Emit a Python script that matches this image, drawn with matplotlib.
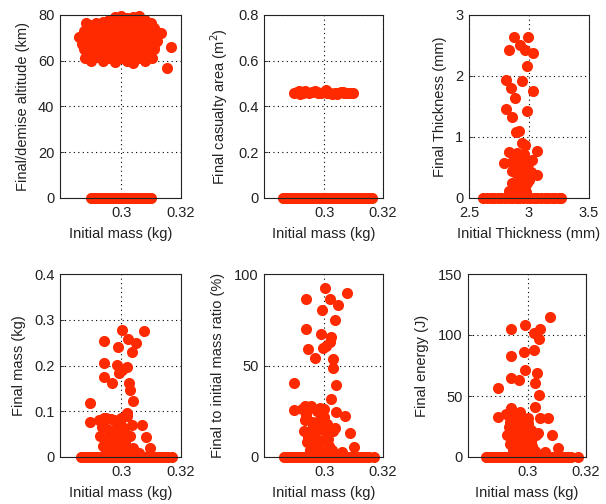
import matplotlib
matplotlib.use("Agg")
import matplotlib.pyplot as plt

plt.rcParams['font.family'] = ['Liberation Sans', 'DejaVu Sans']

# ---------------- data ----------------
# Panel 1: final/demise altitude vs initial mass
alt_mass = [0.2883, 0.2915, 0.294, 0.296, 0.298, 0.300, 0.302, 0.304, 0.306, 0.308, 0.310,
            0.2895, 0.293, 0.295, 0.297, 0.299, 0.301, 0.303, 0.305, 0.307, 0.309, 0.311,
            0.2860, 0.2875, 0.290, 0.292, 0.294, 0.296, 0.298, 0.300, 0.302, 0.304, 0.306, 0.308, 0.310, 0.312, 0.3132,
            0.289, 0.291, 0.293, 0.295, 0.297, 0.299, 0.301, 0.303, 0.305, 0.307, 0.309, 0.311,
            0.288, 0.290, 0.292, 0.294, 0.296, 0.298, 0.300, 0.302, 0.304, 0.306, 0.308, 0.310, 0.312,
            0.287, 0.289, 0.291, 0.293, 0.295, 0.297, 0.299, 0.301, 0.303, 0.305, 0.307, 0.309, 0.311,
            0.2875, 0.289, 0.291, 0.293, 0.295, 0.297, 0.299, 0.301, 0.303, 0.305, 0.307, 0.309, 0.311, 0.3166,
            0.289, 0.291, 0.293, 0.295, 0.297, 0.299, 0.301, 0.303, 0.305, 0.307, 0.309,
            0.288, 0.290, 0.292, 0.294, 0.296, 0.298, 0.300, 0.302, 0.304, 0.306, 0.308, 0.3103, 0.3153,
            0.2899, 0.2909, 0.2919, 0.2929, 0.2939, 0.2949, 0.2959, 0.2969, 0.2979, 0.2989, 0.2999,
            0.3009, 0.3019, 0.3029, 0.3039, 0.3049, 0.3059, 0.3069, 0.3079, 0.3089, 0.3098]
alt_value = [76.5, 76.5, 77, 78, 79, 79.5, 78.5, 79, 79.5, 78, 76.5,
             75.5, 75.5, 76, 75.5, 76, 75.5, 76, 75.5, 76, 75, 74.5,
             70.2, 73, 74, 73, 74, 73, 74, 73, 74, 73, 74, 73, 74, 72.5, 72,
             71.5, 71, 71.5, 71, 71.5, 71, 71.5, 71, 71.5, 71, 71.5, 70.5,
             69, 70, 68, 70, 69, 70, 68, 70, 69, 70, 68, 69, 68.5,
             67.5, 67, 67.5, 67, 67.5, 67, 67.5, 67, 67.5, 67, 67.5, 67, 67,
             65, 66, 64, 65, 66, 64, 65, 66, 64, 65, 66, 64, 65, 65.9,
             63, 62.5, 63, 62.5, 63, 62, 63, 62, 63, 62.5, 63,
             61, 60, 61.5, 60, 61, 59.5, 61, 60, 59, 61, 60, 61, 56.7,
             0, 0, 0, 0, 0, 0, 0, 0, 0, 0, 0,
             0, 0, 0, 0, 0, 0, 0, 0, 0, 0]

# Panel 2: final casualty area vs initial mass
area_mass = [0.2898, 0.2908, 0.2918, 0.2928, 0.2938, 0.2948, 0.2958, 0.2968, 0.2978, 0.2988,
             0.2998, 0.3008, 0.3018, 0.3028, 0.3038, 0.3048, 0.3058, 0.3068, 0.3078, 0.3088,
             0.3098, 0.2935, 0.2975, 0.3005, 0.3045, 0.2915, 0.3065,
             0.2861, 0.2871, 0.2881, 0.2891, 0.2901, 0.2911, 0.2921, 0.2931, 0.2941, 0.2951,
             0.2961, 0.2971, 0.2981, 0.2991, 0.3001, 0.3011, 0.3021, 0.3031, 0.3041, 0.3051,
             0.3061, 0.3071, 0.3081, 0.3091, 0.3101, 0.3111, 0.3121, 0.3131, 0.3141, 0.3151, 0.3162]
area_value = [0.458, 0.462, 0.456, 0.460, 0.465, 0.458, 0.462, 0.466, 0.460, 0.457,
              0.463, 0.459, 0.461, 0.456, 0.460, 0.458, 0.462, 0.457, 0.461, 0.458,
              0.459, 0.468, 0.464, 0.470, 0.455, 0.466, 0.464,
              0, 0, 0, 0, 0, 0, 0, 0, 0, 0,
              0, 0, 0, 0, 0, 0, 0, 0, 0, 0,
              0, 0, 0, 0, 0, 0, 0, 0, 0, 0, 0]

# Panel 3: final thickness vs initial thickness
thk_init = [2.878, 2.994, 2.836, 2.925, 2.967, 3.031, 2.986, 2.81, 2.945, 2.847, 3.03, 2.883,
            2.806, 2.856, 2.986, 2.89, 2.917, 2.967, 3.069, 2.833, 2.792, 2.945, 2.903, 2.958,
            3.028, 2.861, 2.917, 2.975, 2.889, 2.945, 3.014, 2.917, 2.972, 2.83, 2.9, 3.069,
            2.861, 2.97, 2.93, 2.95, 2.88, 2.96, 2.99, 2.86, 2.94, 3.0, 2.91, 2.98,
            2.62, 2.65, 2.68, 2.71, 2.74, 2.77, 2.80, 2.83, 2.86, 2.89, 2.92, 2.95, 2.98,
            3.01, 3.04, 3.07, 3.10, 3.13, 3.16, 3.19, 3.22, 3.25, 3.27]
thk_final = [2.644, 2.644, 2.426, 2.508, 2.426, 2.38, 2.164, 1.934, 1.918, 1.798, 1.754, 1.634,
             1.459, 1.323, 1.431, 1.087, 1.1, 0.869, 0.776, 0.76, 0.568, 0.897, 0.733, 0.677,
             0.623, 0.595, 0.513, 0.49, 0.405, 0.35, 0.43, 0.267, 0.103, 0.12, 0.1, 0.377,
             0.24, 0.185, 0.2, 0.06, 0.62, 0.72, 0.55, 0.45, 0.6, 0.3, 0.15, 0.25,
             0, 0, 0, 0, 0, 0, 0, 0, 0, 0, 0, 0, 0,
             0, 0, 0, 0, 0, 0, 0, 0, 0, 0]

# Panel 4: final mass vs initial mass
fm_mass = [0.3004, 0.3075, 0.2943, 0.2990, 0.3021, 0.3048, 0.3037, 0.2943, 0.2985, 0.3004,
           0.3020, 0.2993, 0.2943, 0.2968, 0.3027, 0.3028, 0.2897, 0.3040, 0.3020, 0.2897,
           0.2943, 0.2966, 0.3070, 0.3084, 0.3097,
           0.2925, 0.295, 0.2975, 0.300, 0.302, 0.2935, 0.296, 0.2985, 0.301, 0.3035,
           0.293, 0.2955, 0.298, 0.3005, 0.303, 0.294, 0.2965, 0.299, 0.3015, 0.304,
           0.2955, 0.298, 0.3005, 0.3025, 0.306,
           0.2938, 0.2962, 0.2988, 0.3012, 0.2945, 0.2970, 0.2995, 0.2950, 0.2978, 0.3000,
           0.2866, 0.2876, 0.2886, 0.2896, 0.2906, 0.2916, 0.2926, 0.2936, 0.2946, 0.2956,
           0.2966, 0.2976, 0.2986, 0.2996, 0.3006, 0.3016, 0.3026, 0.3036, 0.3046, 0.3056,
           0.3066, 0.3076, 0.3086, 0.3096, 0.3106, 0.3116, 0.3126, 0.3136, 0.3146, 0.3156, 0.3169]
fm_value = [0.278, 0.276, 0.254, 0.241, 0.259, 0.250, 0.229, 0.206, 0.201, 0.190,
            0.197, 0.183, 0.175, 0.161, 0.161, 0.146, 0.119, 0.122, 0.097, 0.077,
            0.085, 0.082, 0.070, 0.043, 0.019,
            0.080, 0.085, 0.080, 0.085, 0.090, 0.065, 0.060, 0.065, 0.060, 0.070,
            0.045, 0.040, 0.045, 0.040, 0.045, 0.025, 0.020, 0.025, 0.020, 0.020,
            0.008, 0.010, 0.008, 0.010, 0.008,
            0.072, 0.052, 0.055, 0.030, 0.033, 0.035, 0.050, 0.012, 0.015, 0.070,
            0, 0, 0, 0, 0, 0, 0, 0, 0, 0,
            0, 0, 0, 0, 0, 0, 0, 0, 0, 0,
            0, 0, 0, 0, 0, 0, 0, 0, 0, 0, 0]

# Panel 5: final to initial mass ratio vs initial mass
ratio_mass = [0.3002, 0.3078, 0.2939, 0.3018, 0.3046, 0.2993, 0.3038, 0.2939, 0.2988, 0.3024,
              0.3018, 0.2946, 0.2996, 0.3006, 0.2970, 0.3030, 0.3030, 0.2898, 0.3041, 0.3024,
              0.2898, 0.2935, 0.2955, 0.2985, 0.3041, 0.3072, 0.3086, 0.3103,
              0.2925, 0.295, 0.2975, 0.300, 0.2935, 0.296, 0.2985, 0.301, 0.3035,
              0.293, 0.2955, 0.298, 0.3005, 0.303, 0.294, 0.2965, 0.299, 0.3015,
              0.2955, 0.298, 0.3005, 0.3025, 0.306,
              0.2938, 0.2962, 0.2988, 0.3012, 0.2945, 0.2970, 0.2995, 0.2950, 0.2978, 0.3000,
              0.2862, 0.2872, 0.2882, 0.2892, 0.2902, 0.2912, 0.2922, 0.2932, 0.2942, 0.2952,
              0.2962, 0.2972, 0.2982, 0.2992, 0.3002, 0.3012, 0.3022, 0.3032, 0.3042, 0.3052,
              0.3062, 0.3072, 0.3082, 0.3092, 0.3102, 0.3112, 0.3122, 0.3132, 0.3142, 0.3152, 0.3170]
ratio_value = [92.2, 89.8, 86.2, 86.2, 83.0, 80.3, 74.9, 69.8, 67.2, 65.7,
               63.0, 58.9, 59.4, 60.7, 53.9, 53.4, 48.5, 40.3, 39.3, 31.5,
               25.7, 28.0, 28.0, 27.0, 24.8, 22.6, 13.3, 5.6,
               26, 27, 25, 26, 20, 19, 21, 18, 16,
               14, 12, 15, 13, 14, 8, 7, 9, 6,
               3, 4, 3, 4, 3,
               23, 17, 18, 10, 11, 11, 16, 4, 5, 22,
               0, 0, 0, 0, 0, 0, 0, 0, 0, 0,
               0, 0, 0, 0, 0, 0, 0, 0, 0, 0,
               0, 0, 0, 0, 0, 0, 0, 0, 0, 0, 0]

# Panel 6: final energy vs initial mass
en_mass = [0.3077, 0.2992, 0.3043, 0.2941, 0.3020, 0.3037, 0.2941, 0.2986, 0.3020, 0.2992,
           0.3032, 0.2944, 0.2969, 0.3025, 0.2899, 0.3037, 0.3025, 0.2941, 0.2899, 0.2973,
           0.3043, 0.3071, 0.3085, 0.3103,
           0.2925, 0.295, 0.2975, 0.300, 0.2935, 0.296, 0.2985, 0.301, 0.3035,
           0.293, 0.2955, 0.298, 0.3005, 0.303, 0.294, 0.2965, 0.299, 0.3015,
           0.2955, 0.298, 0.3005, 0.3025, 0.306,
           0.2938, 0.2962, 0.2988, 0.3012, 0.2945, 0.2970, 0.2995, 0.2950, 0.2978, 0.3000,
           0.2857, 0.2867, 0.2877, 0.2887, 0.2897, 0.2907, 0.2917, 0.2927, 0.2937, 0.2947,
           0.2957, 0.2967, 0.2977, 0.2987, 0.2997, 0.3007, 0.3017, 0.3027, 0.3037, 0.3047,
           0.3057, 0.3067, 0.3077, 0.3087, 0.3097, 0.3107, 0.3117, 0.3127, 0.3137, 0.3147, 0.3173]
en_value = [115.0, 108.2, 104.6, 104.6, 101.4, 96.5, 82.8, 86.3, 87.7, 71.3,
            69.1, 65.0, 63.1, 60.4, 56.3, 50.8, 41.2, 39.9, 33.0, 37.1,
            31.7, 31.7, 18.0, 7.1,
            35, 33, 30, 32, 25, 24, 27, 22, 20,
            18, 16, 19, 17, 18, 11, 10, 12, 9,
            4, 5, 4, 5, 4,
            29, 21, 22, 13, 14, 14, 20, 6, 7, 28,
            0, 0, 0, 0, 0, 0, 0, 0, 0, 0,
            0, 0, 0, 0, 0, 0, 0, 0, 0, 0,
            0, 0, 0, 0, 0, 0, 0, 0, 0, 0, 0]

mass_ticks = [0.3, 0.32]
mass_lim = (0.2795, 0.32)

panels = [
    dict(pos=[60, 198, 121], x=alt_mass, y=alt_value, xlim=mass_lim, xt=mass_ticks, xtl=['0.3', '0.32'],
         ylim=(0, 80), yt=[0, 20, 40, 60, 80], ytl=['0', '20', '40', '60', '80'],
         xl='Initial mass (kg)', yl='Final/demise altitude (km)'),
    dict(pos=[264, 198, 119], x=area_mass, y=area_value, xlim=mass_lim, xt=mass_ticks, xtl=['0.3', '0.32'],
         ylim=(0, 0.8), yt=[0, 0.2, 0.4, 0.6, 0.8], ytl=['0', '0.2', '0.4', '0.6', '0.8'],
         xl='Initial mass (kg)', yl='Final casualty area (m$^2$)'),
    dict(pos=[469, 198, 120], x=thk_init, y=thk_final, xlim=(2.5, 3.5), xt=[2.5, 3, 3.5], xtl=['2.5', '3', '3.5'],
         ylim=(0, 3), yt=[0, 1, 2, 3], ytl=['0', '1', '2', '3'],
         xl='Initial Thickness (mm)', yl='Final Thickness (mm)'),
    dict(pos=[60, 457, 121], x=fm_mass, y=fm_value, xlim=mass_lim, xt=mass_ticks, xtl=['0.3', '0.32'],
         ylim=(0, 0.4), yt=[0, 0.1, 0.2, 0.3, 0.4], ytl=['0', '0.1', '0.2', '0.3', '0.4'],
         xl='Initial mass (kg)', yl='Final mass (kg)'),
    dict(pos=[264, 457, 119], x=ratio_mass, y=ratio_value, xlim=mass_lim, xt=mass_ticks, xtl=['0.3', '0.32'],
         ylim=(0, 100), yt=[0, 50, 100], ytl=['0', '50', '100'],
         xl='Initial mass (kg)', yl='Final to initial mass ratio (%)'),
    dict(pos=[468, 457, 118], x=en_mass, y=en_value, xlim=mass_lim, xt=mass_ticks, xtl=['0.3', '0.32'],
         ylim=(0, 150), yt=[0, 50, 100, 150], ytl=['0', '50', '100', '150'],
         xl='Initial mass (kg)', yl='Final energy (J)'),
]

W, H = 606, 504
fig = plt.figure(figsize=(W / 100, H / 100), dpi=100)
dot_color = '#FF2A00'
txt_color = '#222222'

for p in panels:
    left, bottom_px, width = p['pos']
    ax = fig.add_axes([left / W, 1 - bottom_px / H, width / W, 183 / H])
    n = min(len(p['x']), len(p['y']))
    ax.plot(p['x'][:n], p['y'][:n], 'o', color=dot_color, markersize=8, markeredgewidth=0,
            linestyle='none', clip_on=False, zorder=2)
    ax.set_xlim(*p['xlim'])
    ax.set_ylim(*p['ylim'])
    ax.set_xticks(p['xt'])
    ax.set_xticklabels(p['xtl'])
    ax.set_yticks(p['yt'])
    ax.set_yticklabels(p['ytl'])
    ax.grid(True, color='black', linestyle=(0, (1, 3)), linewidth=0.8, zorder=1)
    ax.set_axisbelow(True)
    ax.tick_params(direction='in', length=3, width=0.6, labelsize=10.5, colors=txt_color)
    ax.tick_params(axis='x', pad=6)
    ax.tick_params(axis='y', pad=4)
    for s in ax.spines.values():
        s.set_linewidth(0.8)
        s.set_color(txt_color)
        s.set_zorder(3)
    ax.set_xlabel(p['xl'], fontsize=10.5, color=txt_color, labelpad=5)
    ax.set_ylabel(p['yl'], fontsize=10.5, color=txt_color, labelpad=6)

fig.savefig('out.png', dpi=100, facecolor='white')
